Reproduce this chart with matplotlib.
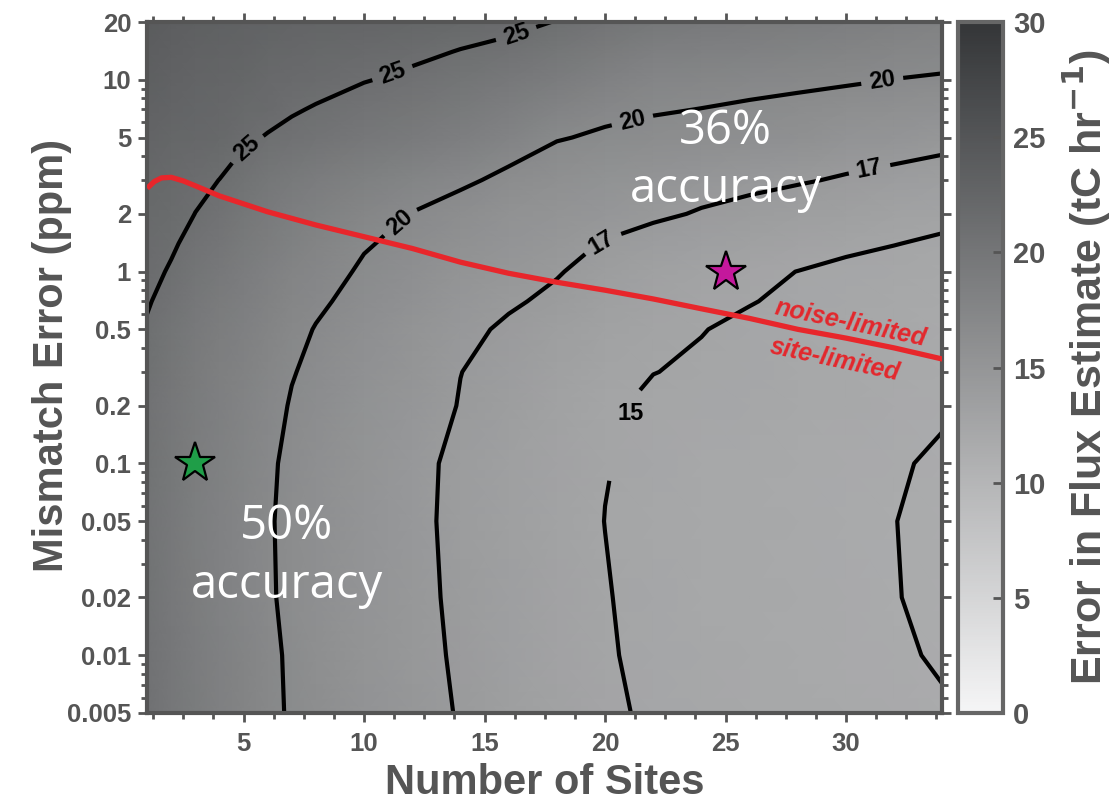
import numpy as np
import matplotlib
matplotlib.use("Agg")
import matplotlib.pyplot as plt
from matplotlib.cm import ScalarMappable
from matplotlib.colors import LinearSegmentedColormap, ListedColormap, Normalize
from matplotlib.ticker import (FixedLocator, FixedFormatter, MultipleLocator,
                               AutoMinorLocator, LogLocator, NullFormatter)

plt.rcParams['font.family'] = ['Liberation Sans', 'DejaVu Sans']
plt.rcParams['font.weight'] = 'bold'
plt.rcParams['axes.labelweight'] = 'bold'

# ---- data -----------------------------------------------------------------
sites = [1, 2, 3, 4, 5, 6, 7, 8, 10, 12, 14, 16, 18, 20, 22, 24, 26, 28, 30, 32, 34]
mismatch = [0.005, 0.01, 0.02, 0.05, 0.1, 0.2, 0.3, 0.5, 0.7, 1, 1.4, 2, 3, 5, 7,
            10, 14, 20]

# error in flux estimate (tC/hr), one row per mismatch error level
err_0p005 = [24.53, 23.53, 22.63, 21.88, 21.18, 20.48, 19.78, 19.28, 18.38, 17.68, 16.88,
             16.27, 15.70, 15.15, 14.87, 14.71, 14.59, 14.47, 14.35, 14.20, 14.05]
err_0p01 = [24.47, 23.47, 22.57, 21.82, 21.12, 20.42, 19.72, 19.20, 18.28, 17.56, 16.76,
            16.16, 15.57, 15.07, 14.83, 14.65, 14.51, 14.38, 14.25, 14.09, 13.93]
err_0p02 = [24.30, 23.30, 22.40, 21.65, 20.95, 20.25, 19.55, 19.05, 18.16, 17.47, 16.67,
            16.06, 15.51, 15.04, 14.79, 14.60, 14.45, 14.32, 14.19, 14.025, 13.865]
err_0p05 = [24.25, 23.25, 22.35, 21.60, 20.90, 20.20, 19.50, 19.00, 18.10, 17.40, 16.60,
            16.00, 15.45, 14.99, 14.75, 14.57, 14.43, 14.30, 14.17, 14.01, 13.85]
err_0p1 = [24.35, 23.35, 22.45, 21.70, 21.00, 20.30, 19.60, 19.09, 18.17, 17.44, 16.64,
           16.04, 15.50, 15.04, 14.80, 14.62, 14.48, 14.35, 14.22, 14.066, 13.906]
err_0p2 = [24.45, 23.50, 22.65, 21.92, 21.24, 20.55, 19.88, 19.38, 18.46, 17.75, 16.93,
           16.30, 15.65, 15.10, 14.90, 14.87, 14.71, 14.57, 14.43, 14.29, 14.11]
err_0p3 = [24.61, 23.68, 22.85, 22.13, 21.46, 20.78, 20.10, 19.60, 18.68, 17.95, 17.02,
           16.49, 15.87, 15.34, 15.01, 14.93, 14.78, 14.64, 14.50, 14.35, 14.17]
err_0p5 = [24.85, 23.95, 23.15, 22.45, 21.80, 21.12, 20.43, 19.93, 19.00, 18.25, 17.36,
           16.78, 16.20, 15.70, 15.28, 15.02, 14.88, 14.75, 14.60, 14.45, 14.25]
err_0p7 = [25.14, 24.40, 23.55, 22.85, 22.18, 21.50, 20.81, 20.31, 19.39, 18.67, 17.78,
           17.21, 16.67, 16.00, 15.52, 15.22, 15.03, 14.87, 14.69, 14.55, 14.36]
err_1 = [25.43, 24.85, 23.95, 23.25, 22.55, 21.87, 21.18, 20.68, 19.78, 19.08, 18.20,
         17.63, 17.13, 16.30, 15.75, 15.42, 15.18, 14.99, 14.77, 14.65, 14.47]
err_1p4 = [25.72, 25.23, 24.47, 23.83, 23.08, 22.39, 21.69, 21.19, 20.15, 19.52, 18.75,
           18.12, 17.67, 16.92, 16.44, 16.07, 15.79, 15.47, 15.25, 15.03, 14.83]
err_2 = [26.00, 25.60, 24.98, 24.40, 23.60, 22.90, 22.20, 21.70, 20.78, 19.96, 19.30,
         18.60, 18.20, 17.73, 17.29, 16.87, 16.53, 16.20, 15.98, 15.60, 15.38]
err_3 = [26.36, 25.96, 25.49, 24.98, 24.26, 23.62, 23.06, 22.60, 21.76, 21.04, 20.36,
         19.55, 18.90, 18.44, 18.10, 17.74, 17.46, 17.16, 16.83, 16.50, 16.21]
err_5 = [27.00, 26.60, 26.40, 26.15, 25.43, 24.85, 24.60, 24.20, 23.50, 22.96, 22.25,
         21.24, 20.14, 19.70, 19.55, 19.30, 19.10, 18.87, 18.34, 18.10, 17.69]
err_7 = [27.36, 26.96, 26.67, 26.44, 25.96, 25.85, 25.16, 24.87, 24.22, 23.70, 23.04,
         22.17, 21.25, 20.58, 20.15, 19.97, 19.77, 19.56, 19.20, 18.95, 18.66]
err_10 = [27.80, 27.40, 27.00, 26.80, 26.60, 26.10, 25.85, 25.68, 25.10, 24.60, 24.00,
          23.30, 22.60, 21.65, 20.89, 20.79, 20.58, 20.41, 20.25, 19.98, 19.85]
err_14 = [28.12, 27.72, 27.36, 27.16, 26.96, 26.60, 26.37, 26.23, 25.84, 25.50, 24.90,
          24.39, 23.64, 22.75, 22.02, 21.83, 21.59, 21.35, 21.11, 20.80, 20.60]
err_20 = [28.50, 28.10, 27.80, 27.60, 27.40, 27.20, 27.00, 26.90, 26.75, 26.60, 26.22,
          25.73, 24.90, 24.10, 23.40, 23.10, 22.83, 22.50, 22.17, 21.80, 21.52]

contour_levels = [14, 15, 17, 20, 25]
label_pos_main = [(5.1, 4.4), (11.1, 11.5), (16.3, 17.5),
                  (11.4, 1.86), (21.1, 6.4), (31.5, 9.9),
                  (19.8, 1.46), (30.9, 3.8)]
label_pos_15_line = (20.6, 0.14)
label_pos_15_text = (21.07, 0.183)

# noise-limited / site-limited boundary
boundary_sites = [1, 1.3, 1.6, 2, 2.5, 3, 4, 6, 8, 10, 12, 14, 16, 18, 20, 22, 24,
                  26, 28, 30, 32, 34]
boundary_err = [2.72, 2.95, 3.08, 3.10, 2.97, 2.80, 2.48, 2.05, 1.75, 1.52, 1.32,
                1.12, 0.98, 0.88, 0.80, 0.72, 0.64, 0.57, 0.50, 0.45, 0.40, 0.35]

# highlighted network designs
design_sites = [3, 25]
design_err = [0.1, 1.0]
design_colors = ['#1f9e48', '#c4189c']
design_text = ['50%\naccuracy', '36%\naccuracy']
design_text_xy = [(6.8, 0.033), (25.0, 3.8)]

y_ticks = [0.005, 0.01, 0.02, 0.05, 0.1, 0.2, 0.5, 1, 2, 5, 10, 20]
y_tick_labels = ['0.005', '0.01', '0.02', '0.05', '0.1', '0.2', '0.5', '1', '2',
                 '5', '10', '20']
cbar_ticks = [0, 5, 10, 15, 20, 25, 30]

# ---- figure ---------------------------------------------------------------
GRAY = '#555555'
fig = plt.figure(figsize=(11.14, 8.07), dpi=100)
ax = fig.add_axes([0.1321, 0.1165, 0.7139, 0.8562])
cax = fig.add_axes([0.8600, 0.1165, 0.0404, 0.8562])

# grey ramp for the colour bar; the field uses the same ramp printed slightly paler
bar_cmap = LinearSegmentedColormap.from_list('flux_gray', ['#f5f5f6', '#343638'])
field_rgb = 0.85 * bar_cmap(np.linspace(0, 1, 256))[:, :3] + 0.15
field_cmap = ListedColormap(field_rgb, name='flux_gray_field')
norm = Normalize(vmin=0, vmax=30)

X, Y = np.meshgrid(sites, mismatch)
Z = np.array([err_0p005, err_0p01, err_0p02, err_0p05, err_0p1, err_0p2, err_0p3,
              err_0p5, err_0p7, err_1, err_1p4, err_2, err_3, err_5, err_7, err_10,
              err_14, err_20])

ax.set_yscale('log')
ax.pcolormesh(X, Y, Z, shading='gouraud', cmap=field_cmap, norm=norm, zorder=0)
cs = ax.contour(X, Y, Z, levels=contour_levels, colors='black', linewidths=3.0,
                zorder=2)
ax.set_xlim(1, 34)
ax.set_ylim(0.005, 20)

ax.clabel(cs, manual=label_pos_main, inline=True, inline_spacing=8,
          fmt='%d', fontsize=17)
ax.clabel(cs, manual=[label_pos_15_line], inline=True, inline_spacing=36,
          fmt='%d', fontsize=17)
cs.labelTexts[-1].set_rotation(0)
cs.labelTexts[-1].set_position(label_pos_15_text)

# boundary line and its labels
ax.plot(boundary_sites, boundary_err, color='#e8262b', lw=3.8, zorder=4,
        solid_capstyle='butt')
ax.text(30.2, 0.54, 'noise-limited', color='#e3282d', fontsize=18,
        fontstyle='italic', fontweight='bold', rotation=-12, ha='center',
        va='center', zorder=5)
ax.text(29.55, 0.345, 'site-limited', color='#e3282d', fontsize=18,
        fontstyle='italic', fontweight='bold', rotation=-12, ha='center',
        va='center', zorder=5)

for sx, sy, col in zip(design_sites, design_err, design_colors):
    ax.plot(sx, sy, marker='*', ms=30, color=col, mec='black', mew=1.6,
            zorder=7, linestyle='none')
for (tx, ty), txt in zip(design_text_xy, design_text):
    ax.text(tx, ty, txt, color='white', fontsize=34, fontweight='normal',
            family=['Open Sans', 'DejaVu Sans'], ha='center', va='center',
            linespacing=1.3, zorder=6)

# axes styling
ax.yaxis.set_major_locator(FixedLocator(y_ticks))
ax.yaxis.set_major_formatter(FixedFormatter(y_tick_labels))
ax.yaxis.set_minor_locator(LogLocator(base=10, subs=(3, 4, 6, 7, 8, 9), numticks=50))
ax.yaxis.set_minor_formatter(NullFormatter())
ax.xaxis.set_major_locator(MultipleLocator(5))
ax.xaxis.set_minor_locator(AutoMinorLocator(4))

ax.tick_params(which='both', direction='out', top=True, right=True, color=GRAY,
               width=2, labelcolor=GRAY, labelsize=18.5)
ax.tick_params(which='major', length=6.5)
ax.tick_params(which='minor', length=4.5)
ax.tick_params(axis='x', which='major', pad=7)
ax.tick_params(axis='y', which='major', pad=5)
for sp in ax.spines.values():
    sp.set_linewidth(3)
    sp.set_color(GRAY)

ax.set_xlabel('Number of Sites', fontsize=30, color=GRAY)
ax.set_ylabel('Mismatch Error (ppm)', fontsize=30, color=GRAY)
ax.xaxis.set_label_coords(0.5, -0.072)
ax.yaxis.set_label_coords(-0.094, 0.517)

# colorbar
cb = fig.colorbar(ScalarMappable(norm=norm, cmap=bar_cmap), cax=cax, ticks=cbar_ticks)
cb.outline.set_edgecolor('#666666')
cb.outline.set_linewidth(3)
cax.tick_params(direction='in', length=7, width=2, color=GRAY, labelsize=21,
                labelcolor=GRAY, pad=7)
cax.set_ylabel('Error in Flux Estimate (tC hr$^{\\mathbf{-1}}$)', fontsize=31,
               color=GRAY)
cax.yaxis.set_label_coords(2.3, 0.5)

fig.savefig('out.png', dpi=100)
